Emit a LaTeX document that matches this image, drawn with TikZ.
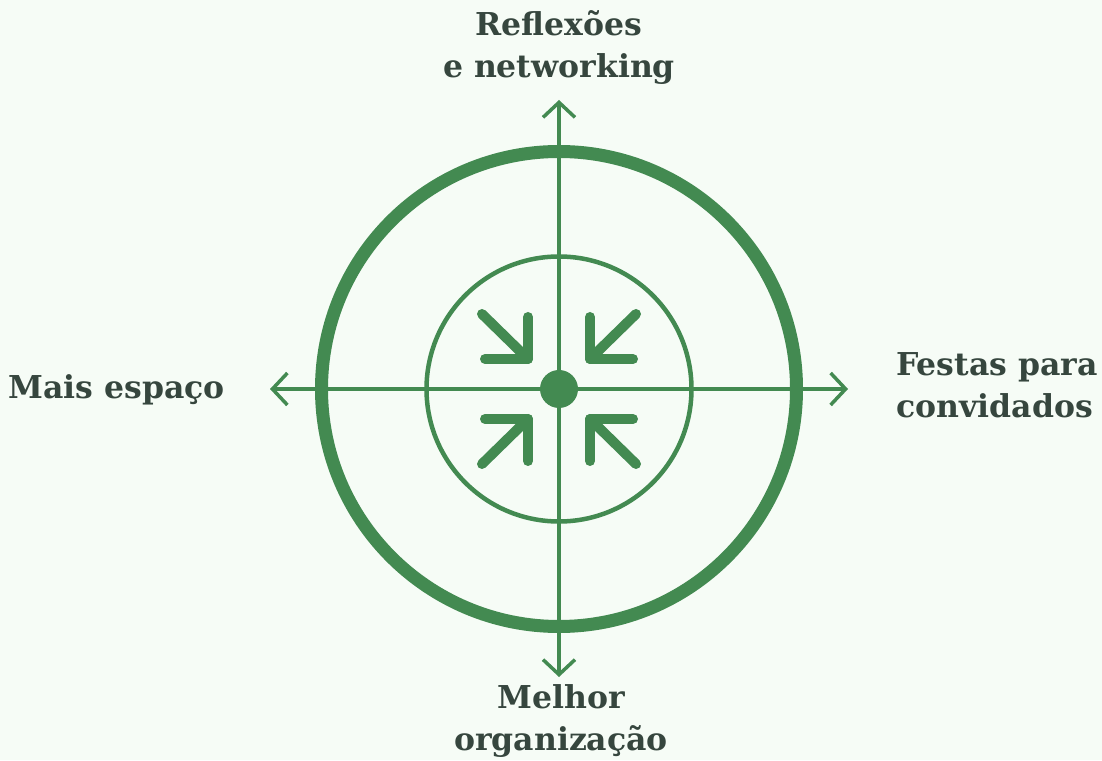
\documentclass[tikz,border=0pt]{standalone}
\usepackage{fontspec}
\setmainfont{DejaVu Serif}
\usetikzlibrary{arrows.meta}
\definecolor{target_green}{RGB}{67,138,81}
\definecolor{label_ink}{RGB}{54,70,62}
\definecolor{page_bg}{RGB}{246,252,246}
\tikzset{
    axis_line/.style={line width=3.5pt, draw=target_green,
                      {Straight Barb[length=15pt, width=32pt]}-{Straight Barb[length=15pt, width=32pt]}},
    outer_ring/.style={draw=target_green, line width=13pt},
    inner_ring/.style={draw=target_green, line width=4.5pt},
    bullseye/.style={circle, fill=target_green, minimum size=38pt, inner sep=0pt},
    focus_arrow/.style={draw=target_green, line width=10pt, line cap=round, line join=round},
    label_text/.style={font=\bfseries\fontsize{31.5}{42}\selectfont, text=label_ink, inner sep=0pt}
}

\begin{document}
\begin{tikzpicture}[x=1pt, y=1pt]
    \fill[page_bg] (0,0) rectangle (1102,760);
    \useasboundingbox (0,0) rectangle (1102,760);
    \coordinate (c) at (559,371);
    \coordinate (ax_top) at (559,660);
    \coordinate (ax_bot) at (559,83);
    \coordinate (ax_left) at (270,371);
    \coordinate (ax_right) at (848,371);
    \draw[outer_ring] (c) circle (237.5);
    \draw[inner_ring] (c) circle (132.5);
    \draw[axis_line] (ax_bot) -- (ax_top);
    \draw[axis_line] (ax_left) -- (ax_right);
    \node[bullseye] (dot) at (c) {};
    % four arrows pointing in
    \foreach \sx/\sy in {1/1, -1/1, 1/-1, -1/-1} {
        \draw[focus_arrow] ([shift={(\sx*77,\sy*75)}]c) -- ([shift={(\sx*31,\sy*30)}]c);
        \draw[focus_arrow] ([shift={(\sx*31,\sy*72)}]c) -- ([shift={(\sx*31,\sy*30)}]c)
            -- ([shift={(\sx*74,\sy*30)}]c);
    }
    % base anchor sits on the last line
    \node[label_text, align=center, anchor=base] (lbl_top) at (559,682) {Reflexões\\e networking};
    \node[label_text, align=left, anchor=base west] (lbl_right) at (896,342) {Festas para\\convidados};
    \node[label_text, anchor=base east] (lbl_left) at (225,361) {Mais espaço};
    \node[label_text, align=center, anchor=base] (lbl_bot) at (561,10) {Melhor\\organização};
\end{tikzpicture}
\end{document}
